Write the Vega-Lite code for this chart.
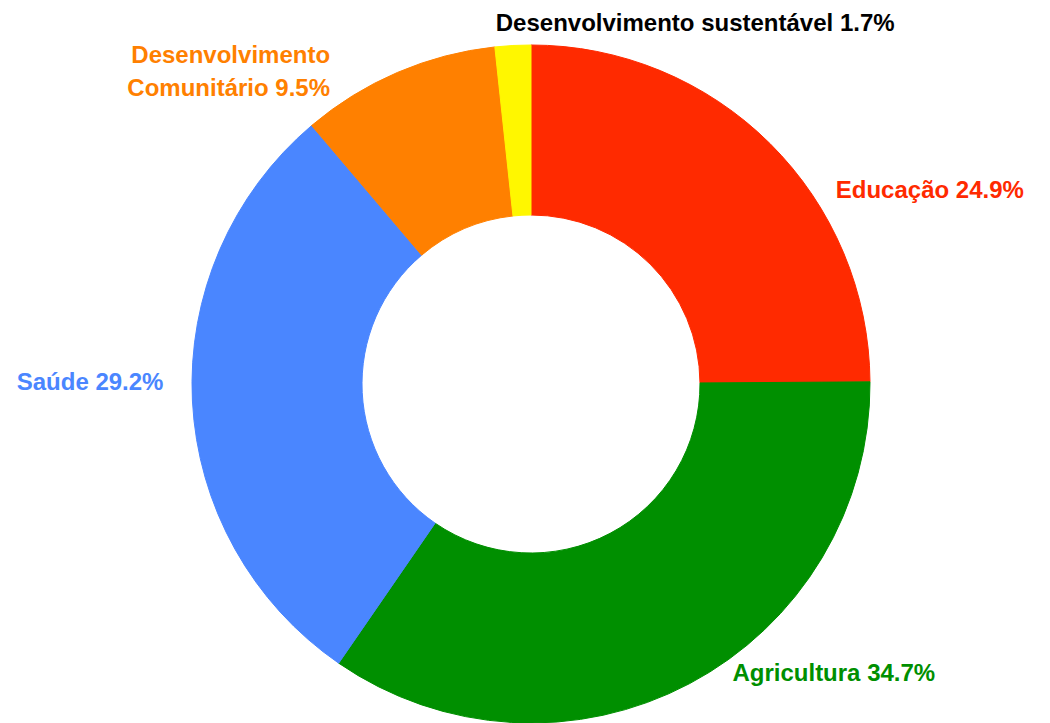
{
  "$schema": "https://vega.github.io/schema/vega-lite/v6.json",
  "width": 1038,
  "height": 680,
  "autosize": "none",
  "padding": {"left": 12, "top": 44, "right": 0, "bottom": 0},
  "background": "white",
  "view": {"stroke": null},
  "data": {
    "values": [
      {"categoria": "Educação", "percentual": 24.9, "ordem": 1, "rotulo": "Educação 24.9%"},
      {"categoria": "Agricultura", "percentual": 34.7, "ordem": 2, "rotulo": "Agricultura 34.7%"},
      {"categoria": "Saúde", "percentual": 29.2, "ordem": 3, "rotulo": "Saúde 29.2%"},
      {"categoria": "Desenvolvimento Comunitário", "percentual": 9.5, "ordem": 4, "rotulo": "Desenvolvimento\nComunitário 9.5%"},
      {"categoria": "Desenvolvimento sustentável", "percentual": 1.7, "ordem": 5, "rotulo": "Desenvolvimento sustentável 1.7%"}
    ]
  },
  "encoding": {
    "theta": {"field": "percentual", "type": "quantitative", "stack": true},
    "order": {"field": "ordem", "type": "quantitative"}
  },
  "layer": [
    {
      "mark": {"type": "arc", "outerRadius": 339, "innerRadius": 169, "strokeWidth": 1},
      "encoding": {
        "color": {
          "field": "categoria",
          "type": "nominal",
          "scale": {
            "domain": ["Educação", "Agricultura", "Saúde", "Desenvolvimento Comunitário", "Desenvolvimento sustentável"],
            "range": ["#FF2A00", "#008F00", "#4A86FF", "#FF8000", "#FFF700"]
          },
          "legend": null
        },
        "stroke": {
          "field": "categoria",
          "type": "nominal",
          "scale": {
            "domain": ["Educação", "Agricultura", "Saúde", "Desenvolvimento Comunitário", "Desenvolvimento sustentável"],
            "range": ["#FF2A00", "#008F00", "#4A86FF", "#FF8000", "#FFF700"]
          },
          "legend": null
        }
      }
    },
    {
      "mark": {"type": "text", "radius": 360, "align": "left", "baseline": "middle", "dx": 51, "dy": 62, "font": "Liberation Sans", "fontWeight": "bold", "fontSize": 24, "fill": "#FF2A00"},
      "encoding": {"text": {"condition": {"test": "datum.categoria === 'Educação'", "field": "rotulo"}, "value": ""}}
    },
    {
      "mark": {"type": "text", "radius": 360, "align": "left", "baseline": "middle", "dx": 33, "dy": -28, "font": "Liberation Sans", "fontWeight": "bold", "fontSize": 24, "fill": "#008F00"},
      "encoding": {"text": {"condition": {"test": "datum.categoria === 'Agricultura'", "field": "rotulo"}, "value": ""}}
    },
    {
      "mark": {"type": "text", "radius": 360, "align": "right", "baseline": "middle", "dx": -8, "dy": -19, "font": "Liberation Sans", "fontWeight": "bold", "fontSize": 24, "fill": "#4A86FF"},
      "encoding": {"text": {"condition": {"test": "datum.categoria === 'Saúde'", "field": "rotulo"}, "value": ""}}
    },
    {
      "mark": {"type": "text", "radius": 360, "align": "right", "baseline": "middle", "dx": -59, "dy": 3, "lineBreak": "\n", "lineHeight": 33, "font": "Liberation Sans", "fontWeight": "bold", "fontSize": 24, "fill": "#FF8000"},
      "encoding": {"text": {"condition": {"test": "datum.categoria === 'Desenvolvimento Comunitário'", "field": "rotulo"}, "value": ""}}
    },
    {
      "mark": {"type": "text", "radius": 360, "align": "left", "baseline": "middle", "dx": -16, "dy": -1, "font": "Liberation Sans", "fontWeight": "bold", "fontSize": 24, "fill": "#000000"},
      "encoding": {"text": {"condition": {"test": "datum.categoria === 'Desenvolvimento sustentável'", "field": "rotulo"}, "value": ""}}
    }
  ]
}
